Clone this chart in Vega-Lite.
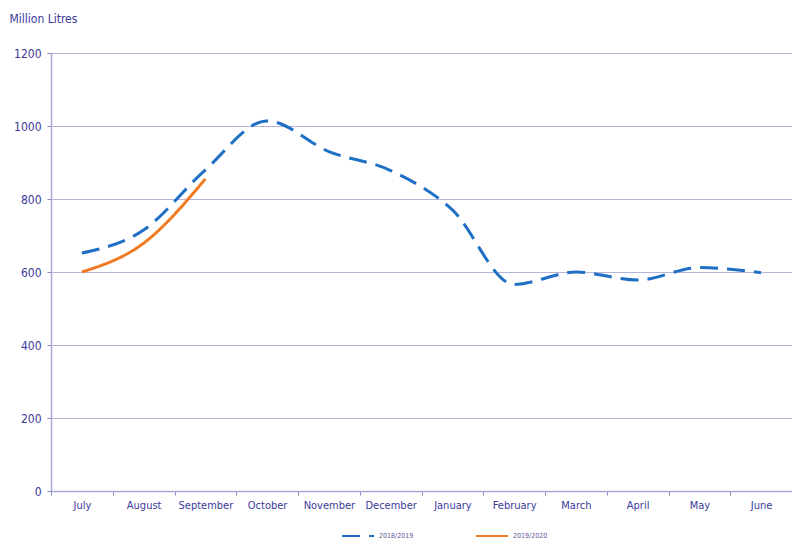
{
  "$schema": "https://vega.github.io/schema/vega-lite/v6.json",
  "width": 741,
  "height": 438,
  "autosize": "none",
  "padding": {"left": 51, "top": 53, "right": 0, "bottom": 53},
  "background": "white",
  "config": {
    "view": {"stroke": null},
    "font": "DejaVu Sans Condensed"
  },
  "data": {
    "values": [
      {"month": "July", "season": "2018/2019", "value": 652},
      {"month": "August", "season": "2018/2019", "value": 715},
      {"month": "September", "season": "2018/2019", "value": 880},
      {"month": "October", "season": "2018/2019", "value": 1014},
      {"month": "November", "season": "2018/2019", "value": 930},
      {"month": "December", "season": "2018/2019", "value": 878},
      {"month": "January", "season": "2018/2019", "value": 770},
      {"month": "February", "season": "2018/2019", "value": 566},
      {"month": "March", "season": "2018/2019", "value": 600},
      {"month": "April", "season": "2018/2019", "value": 578},
      {"month": "May", "season": "2018/2019", "value": 612},
      {"month": "June", "season": "2018/2019", "value": 598},
      {"month": "July", "season": "2019/2020", "value": 600},
      {"month": "August", "season": "2019/2020", "value": 679},
      {"month": "September", "season": "2019/2020", "value": 855}
    ]
  },
  "mark": {"type": "line", "interpolate": "monotone", "strokeWidth": 3, "strokeCap": "butt"},
  "encoding": {
    "x": {
      "field": "month",
      "type": "nominal",
      "sort": ["July","August","September","October","November","December","January","February","March","April","May","June"],
      "scale": {"paddingInner": 0, "paddingOuter": 0},
      "axis": {
        "title": null,
        "labelAngle": 0,
        "tickBand": "extent",
        "labelColor": "#3a3a9a",
        "labelFontSize": 11,
        "labelPadding": 4,
        "domainColor": "#a8a8d8",
        "domainWidth": 1.5,
        "tickColor": "#8888c0",
        "tickSize": 4,
        "grid": false
      }
    },
    "y": {
      "field": "value",
      "type": "quantitative",
      "scale": {"domain": [0, 1200]},
      "axis": {
        "title": "Million Litres",
        "titleAngle": 0,
        "titleAlign": "left",
        "titleBaseline": "middle",
        "titleX": -42,
        "titleY": -35,
        "titleFontWeight": "normal",
        "titleFontSize": 12,
        "titleColor": "#3a3a9a",
        "values": [0, 200, 400, 600, 800, 1000, 1200],
        "format": "d",
        "labelColor": "#3a3a9a",
        "labelFontSize": 12,
        "labelPadding": 6,
        "domainColor": "#a8a8d8",
        "domainWidth": 1.5,
        "tickColor": "#8888c0",
        "tickSize": 4,
        "grid": true,
        "gridColor": "#6a6ab8",
        "gridDash": [1, 1],
        "gridWidth": 1
      }
    },
    "color": {
      "field": "season",
      "type": "nominal",
      "scale": {"domain": ["2018/2019", "2019/2020"], "range": ["#1f6fc5", "#f07a22"]},
      "legend": {
        "title": null,
        "orient": "none",
        "direction": "horizontal",
        "legendX": 290,
        "legendY": 466,
        "symbolType": "stroke",
        "symbolSize": 1024,
        "symbolStrokeWidth": 2,
        "labelFontSize": 7,
        "labelColor": "#5a5a9a",
        "columnPadding": 58
      }
    },
    "strokeDash": {
      "field": "season",
      "type": "nominal",
      "scale": {"domain": ["2018/2019", "2019/2020"], "range": [[18, 9], [1, 0]]},
      "legend": null
    }
  }
}
